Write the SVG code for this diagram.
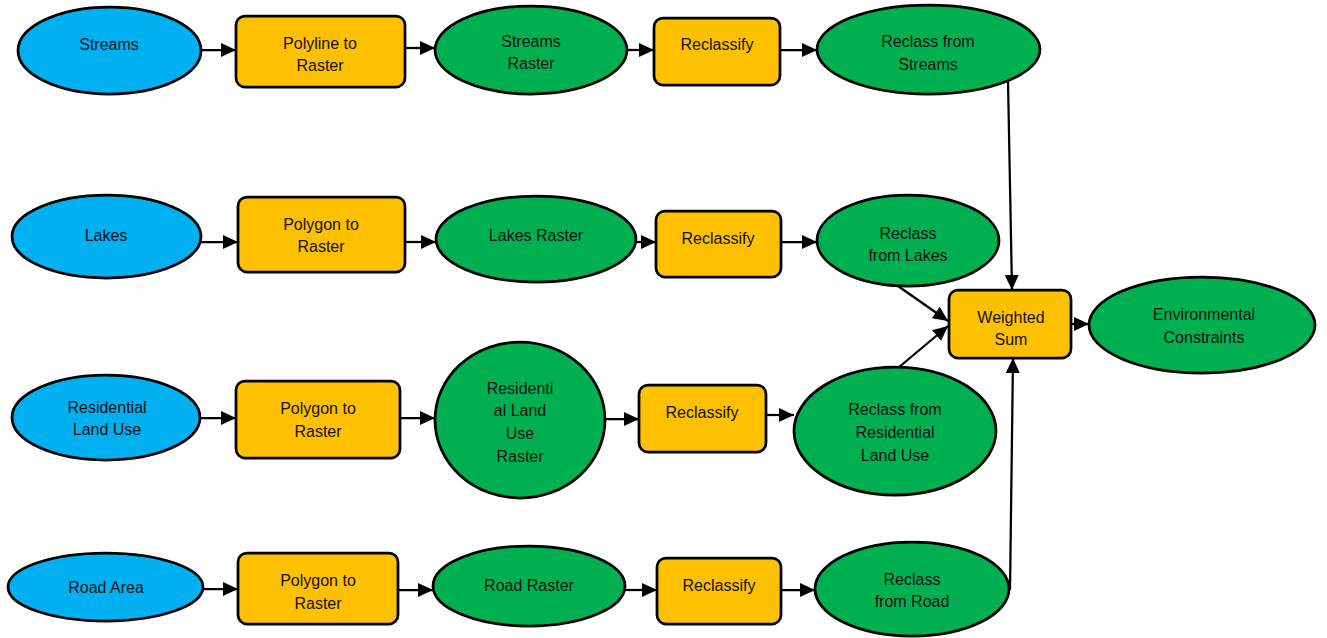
<svg xmlns="http://www.w3.org/2000/svg" width="1327" height="638" viewBox="0 0 1327 638">
<defs>
<style>
.in{fill:#00B0F0;stroke:#000;stroke-width:2.75}
.tool{fill:#FFC000;stroke:#000;stroke-width:2.75}
.out{fill:#00B050;stroke:#000;stroke-width:2.75}
text{font-family:"Liberation Sans",Arial,sans-serif;font-size:16px;fill:#111;text-anchor:middle}
.c{fill:none;stroke:#000;stroke-width:2.25;marker-end:url(#ah)}
</style>
<marker id="ah" markerUnits="userSpaceOnUse" markerWidth="16" markerHeight="14" refX="15" refY="7" orient="auto">
<path d="M0,0 L15,7 L0,14 z" fill="#000"/>
</marker>
</defs>
<rect width="1327" height="638" fill="#fff"/>
<g id="connectors">
<line class="c" x1="201" y1="50" x2="236" y2="50"/>
<line class="c" x1="405" y1="48" x2="435" y2="48"/>
<line class="c" x1="628" y1="50" x2="654" y2="50"/>
<line class="c" x1="780" y1="50" x2="817" y2="50"/>
<line class="c" x1="1008" y1="81" x2="1012" y2="290"/>
<line class="c" x1="201" y1="242" x2="238" y2="242"/>
<line class="c" x1="405" y1="242" x2="436" y2="242"/>
<line class="c" x1="636" y1="242" x2="656" y2="242"/>
<line class="c" x1="781" y1="242" x2="817" y2="242"/>
<line class="c" x1="898" y1="286" x2="948" y2="321"/>
<line class="c" x1="898" y1="368" x2="948" y2="326"/>
<line class="c" x1="1071" y1="324" x2="1089" y2="324"/>
<line class="c" x1="200" y1="418" x2="236" y2="418"/>
<line class="c" x1="400" y1="418" x2="435" y2="418"/>
<line class="c" x1="605" y1="419" x2="639" y2="419"/>
<line class="c" x1="766" y1="415" x2="794" y2="415"/>
<line class="c" x1="204" y1="589" x2="238" y2="589"/>
<line class="c" x1="398" y1="590" x2="433" y2="590"/>
<line class="c" x1="625" y1="590" x2="657" y2="590"/>
<line class="c" x1="781" y1="590" x2="815" y2="590"/>
<line class="c" x1="1010" y1="590" x2="1013" y2="358"/>
</g>
<g id="streams"><ellipse class="in" cx="109.5" cy="50.5" rx="91.5" ry="43.5"/><text x="109" y="50">Streams</text></g>
<g id="polyline-to-raster"><rect class="tool" x="236" y="16" width="169" height="71" rx="9"/><text x="320" y="49">Polyline to</text><text x="320" y="71">Raster</text></g>
<g id="streams-raster"><ellipse class="out" cx="531" cy="50" rx="96" ry="44"/><text x="531" y="47">Streams</text><text x="531" y="69">Raster</text></g>
<g id="reclassify-1"><rect class="tool" x="654" y="18" width="126" height="67" rx="9"/><text x="717" y="50">Reclassify</text></g>
<g id="reclass-streams"><ellipse class="out" cx="928.5" cy="49.5" rx="111.5" ry="44.5"/><text x="928" y="47">Reclass from</text><text x="928" y="70">Streams</text></g>

<g id="lakes"><ellipse class="in" cx="106.5" cy="236.5" rx="94.5" ry="41.5"/><text x="106" y="241">Lakes</text></g>
<g id="polygon-to-raster-1"><rect class="tool" x="238" y="197" width="167" height="75" rx="9"/><text x="321" y="230">Polygon to</text><text x="321" y="252">Raster</text></g>
<g id="lakes-raster"><ellipse class="out" cx="536" cy="239" rx="100" ry="43"/><text x="536" y="241">Lakes Raster</text></g>
<g id="reclassify-2"><rect class="tool" x="656" y="211" width="125" height="66" rx="9"/><text x="718" y="244">Reclassify</text></g>
<g id="reclass-lakes"><ellipse class="out" cx="908" cy="240.5" rx="91" ry="45.5"/><text x="908" y="239">Reclass</text><text x="908" y="261">from Lakes</text></g>

<g id="weighted-sum"><rect class="tool" x="949" y="290" width="122" height="68" rx="9"/><text x="1011" y="323">Weighted</text><text x="1011" y="345">Sum</text></g>
<g id="environmental-constraints"><ellipse class="out" cx="1202" cy="325" rx="113" ry="48"/><text x="1204" y="320">Environmental</text><text x="1204" y="343">Constraints</text></g>

<g id="residential-land-use"><ellipse class="in" cx="106" cy="417.5" rx="94" ry="42.5"/><text x="107" y="413">Residential</text><text x="107" y="435">Land Use</text></g>
<g id="polygon-to-raster-2"><rect class="tool" x="236" y="381" width="164" height="77" rx="9"/><text x="318" y="414">Polygon to</text><text x="318" y="437">Raster</text></g>
<g id="residential-land-use-raster"><ellipse class="out" cx="520" cy="420" rx="85" ry="78"/><text x="520" y="394">Residenti</text><text x="520" y="416">al Land</text><text x="520" y="439">Use</text><text x="520" y="462">Raster</text></g>
<g id="reclassify-3"><rect class="tool" x="639" y="385" width="127" height="67" rx="9"/><text x="702" y="418">Reclassify</text></g>
<g id="reclass-residential"><ellipse class="out" cx="895" cy="431" rx="101" ry="64"/><text x="895" y="415">Reclass from</text><text x="895" y="438">Residential</text><text x="895" y="461">Land Use</text></g>

<g id="road-area"><ellipse class="in" cx="105.5" cy="587" rx="97.5" ry="34"/><text x="106" y="593">Road Area</text></g>
<g id="polygon-to-raster-3"><rect class="tool" x="238" y="553" width="160" height="71" rx="9"/><text x="318" y="586">Polygon to</text><text x="318" y="609">Raster</text></g>
<g id="road-raster"><ellipse class="out" cx="529" cy="586" rx="96" ry="40"/><text x="529" y="591">Road Raster</text></g>
<g id="reclassify-4"><rect class="tool" x="657" y="558" width="124" height="66" rx="9"/><text x="719" y="591">Reclassify</text></g>
<g id="reclass-road"><ellipse class="out" cx="912" cy="589" rx="97" ry="47"/><text x="912" y="585">Reclass</text><text x="912" y="607">from Road</text></g>
</svg>
